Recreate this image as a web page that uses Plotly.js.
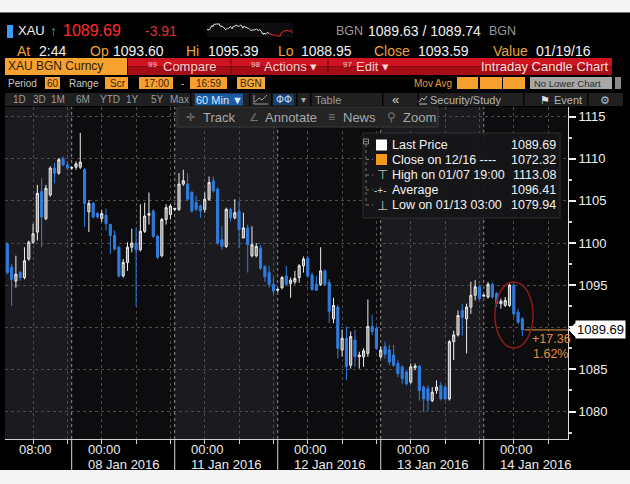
<!DOCTYPE html>
<html><head><meta charset="utf-8">
<script src="https://cdn.plot.ly/plotly-3.0.1.min.js"></script>
<style>html,body{margin:0;padding:0;background:#000;}#chart{width:630px;height:484px;}</style>
</head><body><div id="chart"></div>
<script>
// ---------- data ----------
const sessionDates = ['07 Jan 2016','08 Jan 2016','11 Jan 2016','12 Jan 2016','13 Jan 2016','14 Jan 2016'];
const sessionTimeLabels = ['08:00','00:00','00:00','00:00','00:00','00:00'];
const firstCandleSessionHour = 9;   // first bar = 9th hourly bar of the 07 Jan session (17:00 start)
const candleOpen = [
 1099.9,1097.1,1095.5,1096.5,1095.9,1098.1,1100.1,1101.3,1106.1,1102.9,1105.7,1108.9,1108.3,1110.0,1109.3,
 1108.9,1109.0,1109.0,1108.7,1103.7,1104.7,1103.5,1102.9,1103.3,1102.2,1100.9,1099.5,1096.1,1097.7,1099.5,1100.0,1099.2,1101.4,1103.3,1103.8,1100.8,1098.5,1102.8,1103.4,
 1104.0,1104.0,1107.0,1107.0,1106.0,1104.8,1104.4,1104.0,1105.2,1107.4,1106.4,1100.4,1099.6,1104.0,1103.0,1103.8,1100.6,1101.8,1098.5,1098.5,1099.4,1097.2,1096.5,1095.1,
 1094.4,1094.7,1096.1,1095.2,1095.4,1095.9,1097.3,1098.2,1096.2,1095.1,1095.1,1096.7,1095.3,1091.0,1092.4,1087.3,1088.7,1085.5,1088.5,1086.5,1086.5,1086.9,1090.1,1089.9,
 1086.5,1087.7,1087.3,1086.7,1085.7,1085.3,1084.7,1083.5,1085.2,1085.4,1082.9,1082.7,1081.3,1082.5,1083.1,1082.9,1081.5,1088.3,1089.1,1092.0,1091.0,1092.4,1093.8,1094.8,
 1093.7,1093.6,1095.1,1094.0,1092.8,1092.6,1092.6,1095.0,1091.8,1091.0];
const candleHigh = [
 1100.1,1097.5,1098.5,1096.7,1099.5,1100.3,1102.3,1106.9,1107.7,1106.9,1109.1,1109.5,1110.1,1110.3,1109.7,
 1109.1,1109.7,1113.08,1108.9,1105.1,1104.9,1103.7,1103.9,1104.1,1102.3,1101.5,1099.7,1098.1,1100.1,1101.7,1101.8,1104.6,1104.8,1106.0,1104.0,1101.0,1103.0,1104.6,1104.6,
 1104.2,1108.3,1108.7,1108.3,1106.2,1105.6,1104.6,1106.0,1107.9,1107.9,1106.6,1102.0,1104.2,1104.2,1105.2,1105.0,1103.6,1102.2,1102.0,1100.0,1099.8,1097.4,1097.3,1095.9,
 1094.6,1096.1,1097.3,1095.9,1096.7,1097.5,1098.4,1098.5,1096.5,1096.1,1099.5,1096.9,1095.7,1093.5,1092.7,1089.7,1090.1,1089.5,1089.7,1087.1,1087.5,1093.3,1091.5,1090.1,
 1087.7,1088.3,1087.9,1087.9,1086.1,1085.5,1084.9,1085.7,1085.7,1085.5,1083.1,1083.1,1082.9,1083.7,1083.5,1083.1,1088.5,1089.6,1092.0,1092.8,1092.8,1095.4,1095.6,1095.0,
 1093.9,1095.39,1095.3,1094.2,1093.4,1093.6,1095.3,1095.2,1092.2,1091.2];
const candleLow = [
 1096.3,1092.55,1094.7,1095.5,1095.7,1097.9,1099.9,1100.3,1099.5,1102.7,1105.5,1107.1,1108.1,1109.1,1108.7,
 1108.7,1108.7,1108.8,1101.9,1101.3,1102.9,1102.9,1102.5,1101.5,1098.7,1099.1,1095.9,1095.9,1096.7,1098.9,1092.5,1099.0,1101.2,1102.2,1100.6,1098.1,1098.3,1102.2,1102.8,
 1103.8,1103.8,1106.8,1105.0,1103.6,1103.8,1103.0,1103.6,1105.0,1106.0,1099.8,1099.2,1099.4,1102.6,1102.8,1099.4,1100.6,1096.5,1098.3,1098.3,1096.8,1095.4,1094.7,1093.9,
 1094.2,1094.5,1094.9,1093.5,1095.1,1095.3,1096.5,1095.9,1094.3,1094.3,1094.9,1094.9,1090.5,1090.5,1086.3,1086.5,1083.7,1085.1,1085.3,1085.1,1085.3,1086.5,1089.1,1087.3,
 1086.3,1086.3,1085.5,1085.3,1084.1,1083.3,1083.1,1083.3,1084.9,1081.3,1079.94,1080.1,1081.1,1082.1,1081.3,1081.3,1081.3,1086.1,1088.9,1089.0,1086.9,1091.6,1093.2,1093.2,
 1093.6,1093.4,1093.4,1092.4,1092.2,1092.4,1092.4,1091.2,1090.4,1088.95];
const candleClose = [
 1096.5,1095.7,1096.3,1095.9,1097.9,1100.1,1101.1,1105.9,1103.1,1106.5,1108.9,1108.3,1109.9,1109.3,1108.9,
 1108.95,1109.4,1109.6,1104.7,1104.7,1103.1,1103.1,1103.5,1102.3,1100.9,1099.3,1096.1,1097.7,1099.5,1100.0,1099.2,1101.4,1103.2,1103.5,1100.8,1098.3,1102.8,1104.2,1104.4,
 1104.1,1107.0,1107.4,1105.2,1103.8,1104.0,1103.8,1105.2,1107.2,1106.2,1100.0,1099.6,1104.0,1103.0,1103.6,1101.6,1101.8,1099.8,1099.8,1099.6,1097.0,1096.0,1095.1,1094.3,
 1094.5,1095.9,1095.1,1095.6,1095.8,1097.3,1098.1,1096.1,1094.5,1094.4,1096.7,1095.1,1091.9,1092.6,1087.5,1088.7,1085.3,1088.9,1086.5,1086.7,1087.2,1090.1,1089.5,1087.5,
 1087.3,1086.8,1085.9,1085.5,1084.5,1083.9,1083.3,1085.3,1085.4,1082.5,1081.5,1081.3,1082.3,1082.9,1081.5,1081.5,1088.3,1089.1,1091.4,1091.2,1092.4,1093.8,1094.8,1093.4,
 1093.8,1095.1,1093.6,1092.8,1093.1,1093.2,1095.0,1091.6,1090.6,1089.69];
const lastPrice = 1089.69;
const changeText = ['+17.36','1.62%'];
const legendLabels = ['Last Price','Close on 12/16 ----','High on 01/07 19:00','Average','Low on 01/13 03:00'];
const legendValues = ['1089.69','1072.32','1113.08','1096.41','1079.94'];
const yTicks = [1080,1085,1090,1095,1100,1105,1110,1115];

// ---------- helpers ----------
const W = 630, H = 484;
const F = 'Liberation Sans, Arial, sans-serif';
const X = p => p / W, Y = p => 1 - p / H;
const ann = [], shp = [];
function T(text, x, y, size, color, anchor, extra) {
  ann.push(Object.assign({xref:'paper', yref:'paper', x:X(x), y:Y(y), text:text, showarrow:false,
    xanchor:anchor||'left', yanchor:'middle', borderpad:0, font:{family:F, size:size, color:color}}, extra||{}));
}
function R(x0,y0,x1,y1,fill,line,layer) {
  shp.push({type:'rect', xref:'paper', yref:'paper', x0:X(x0), x1:X(x1), y0:Y(y1), y1:Y(y0),
    fillcolor:fill, line: line ? {color:line, width:1} : {width:0}, layer: layer||'above'});
}
function Ln(x0,y0,x1,y1,color,width,dash) {
  shp.push({type:'line', xref:'paper', yref:'paper', x0:X(x0), x1:X(x1), y0:Y(y0), y1:Y(y1),
    line:{color:color, width:width||1, dash:dash||'solid'}});
}
function P(pts, color, fill) {
  shp.push({type:'path', xref:'paper', yref:'paper',
    path: 'M' + pts.map(p => X(p[0]) + ',' + Y(p[1])).join(' L') + (fill ? ' Z' : ''),
    line:{color:color, width:1}, fillcolor: fill || 'rgba(0,0,0,0)'});
}

const n = candleOpen.length;
const idx = candleOpen.map((_, i) => i);
const xMin = -0.54, xMax = 130.63;
const sessionStart = s => s * 24 - firstCandleSessionHour;

// ---------- background strips ----------
R(0,0,630,12,'#f4f4f4',null,'below');
Ln(0,12.5,630,12.5,'#777777',1);
R(0,470,630,484,'#f4f4f4',null,'below');

// day bands
sessionDates.forEach((d, s) => {
  if (s % 2 === 0) {
    shp.push({type:'rect', xref:'x', yref:'paper', x0:Math.max(xMin, sessionStart(s)), x1:sessionStart(s+1),
      y0:Y(439), y1:Y(107), fillcolor:'#1b1b1f', line:{width:0}, layer:'below'});
  }
});
// session separators
for (let s = 1; s < sessionDates.length; s++) {
  const xs = sessionStart(s);
  shp.push({type:'line', xref:'x', yref:'paper', x0:xs, x1:xs, y0:Y(439), y1:Y(107),
    line:{color:'#8d8d8d', width:1, dash:'dot'}, layer:'below'});
  shp.push({type:'line', xref:'x', yref:'paper', x0:xs, x1:xs, y0:Y(470), y1:Y(439),
    line:{color:'#d6d6d6', width:1}});
}
// 8-hour grid / tick positions
const gridIdx = [];
for (let s = 0; s < sessionDates.length; s++) {
  [7, 15, 23].forEach(h => { const v = sessionStart(s) + h; if (v > xMin && v < xMax) gridIdx.push(v); });
}
// bottom labels
sessionDates.forEach((d, s) => {
  const hr = parseInt(sessionTimeLabels[s], 10);
  const pos = sessionStart(s) + ((hr - 17 + 24) % 24);
  ann.push({xref:'x', yref:'paper', x:pos, y:Y(449), xanchor:'left', yanchor:'middle', xshift:-15,
    text:sessionTimeLabels[s], showarrow:false, borderpad:0, font:{family:F, size:13, color:'#ececec'}});
  if (s > 0) ann.push({xref:'x', yref:'paper', x:pos, y:Y(464), xanchor:'left', yanchor:'middle', xshift:-15,
    text:d, showarrow:false, borderpad:0, font:{family:F, size:13, color:'#ececec'}});
});

// ---------- header ----------
const OR = '#eba23c', WH = '#f2f2f2', GR = '#9a9a9a';
R(7,25,13,38,'#3d9cf5');
T('XAU',17,31,13,WH);
T('\u2191',49,31,14,'#2fb54a');
T('1089.69',62,31,16,'#ff2b2b');
T('-3.91',144,31,14,'#e23030');
T('BGN',335,31,12.5,GR);
T('1089.63 / 1089.74',367,31,14,WH);
T('BGN',488,31,12.5,GR);

[['At',16,OR],['2:44',38,WH],['Op',89,OR],['1093.60',112,WH],['Hi',185,OR],['1095.39',207,WH],
 ['Lo',277,OR],['1088.95',300,WH],['Close',373,OR],['1093.59',417,WH],['Value',492,OR],['01/19/16',535,WH]]
 .forEach(a => T(a[0], a[1], 51, 14, a[2]));

// row 3 bar
R(5,58,127,75,'#f7a12e');
T('XAU BGN Curncy',7,66.5,12,'#2a1d08');
R(128,58,612,66.5,'#cf1421');
R(128,66.5,612,75,'#a50d17');
Ln(231,59,231,74,'#6e070d',1);
Ln(328,59,328,74,'#6e070d',1);
const PK = '#f6cfcf';
T('99',147,64,8,PK); T('Compare',162,66.5,13,PK);
T('98',250,64,8,PK); T('Actions \u25be',263,66.5,13,PK);
T('97',342,64,8,PK); T('Edit \u25be',355,66.5,13,PK);
T('Intraday Candle Chart',610,66.5,13,'#f8dede','right');

// row 4
const BX = '#f7a030', BT = '#3a2408';
T('Period',7,83,10,'#c8c8c8');
R(45,77,60,89,BX); T('60',52.5,83,10,BT,'center');
T('Range',68,83,10,'#c8c8c8');
R(105,77,128,89,BX); T('Scr',127,83,10,BT,'right');
R(139,77,173,89,BX); T('17:00',156,83,10,BT,'center');
T('-',180,83,10,'#c8c8c8');
R(190,77,227,89,BX); T('16:59',208.5,83,10,BT,'center');
R(237,77,265,89,'#f5a93a'); T('BGN',239,83,10,BT);
T('Mov Avg',413,83,10,'#e39a35');
R(457,77,478,89,BX); R(480,77,502,89,BX); R(503,77,525,89,BX);
R(530,77,612,89,'#a8a8a8'); T('No Lower Chart',533,83,9.5,'#2a2a2a');
R(615,77,621,89,'#8a8a8a');

// row 5
R(5,93,623,106,'#202020');
[190,249,271,296,310,382,417,523,587].forEach(x => R(x,93,x+1.5,106,'#050505'));
[['1D',12],['3D',32],['1M',50],['6M',75],['YTD',99],['1Y',125],['5Y',150],['Max',169]]
  .forEach(a => T(a[0], a[1], 99.5, 10, '#9c9c9c'));
R(195,93.5,243,105.5,'#1b5aa0'); T('60 Min \u25bc',219,99.5,11,'#d8e8ff','center');
P([[254,95],[254,104],[268,104]],'#9a9a9a');
P([[255,102],[259,98],[262,100],[267,95]],'#9a9a9a');
R(273,94,294,105,'#17406e'); T('\u03a6\u03a6',283.5,99.5,10,'#cfe4ff','center');
T('\u25be',300,99.5,10,'#aaaaaa');
T('Table',314,99.5,11,'#9c9c9c');
T('\u00ab',391,99.5,13,'#cfcfcf');
P([[419,104],[427,104]],'#bdbdbd');
P([[419,102],[422,98],[424,100],[427,96]],'#bdbdbd');
T('Security/Study',429,99.5,11,'#b5b5b5');
T('\u2691',539,99.5,11,'#e0e0e0');
T('Event',553,99.5,11,'#b5b5b5');
T('\u2699',599,99.5,11,'#bdbdbd');

// track toolbar
R(177,107,438,127,'#242424','#3a3a3a');
const TG = '#a9a9a9';
T('\u271b',185,117,11,'#777777'); T('Track',202,117,13,TG);
T('\u2220',248,117,11,'#777777'); T('Annotate',264,117,13,TG);
T('\u2261',327,117,12,'#777777'); T('News',342,117,13,TG);
T('\u26b2',386,117,12,'#777777'); T('Zoom',402,117,13,TG);

// ---------- legend box ----------
R(363,133,560,218,'rgba(22,22,24,0.95)','#2f2f2f');
const rowsY = [145,159.5,175,190,205];
R(363.5,139,368.5,144,'rgba(0,0,0,0)','#8a8a8a');
Ln(364.5,141.5,367.5,141.5,'#8a8a8a',1);
Ln(366,144,366,205,'#777777',1,'dot');
rowsY.slice(1).forEach(y => Ln(366,y,373,y,'#777777',1,'dot'));
R(376,139.5,387,150.5,'#ffffff');
R(376,154,387,165,'#f39a1d');
T('\u22a4',376,175,13,'#bdbdbd');
T('-+-',373,190,10,'#cfcfcf');
T('\u22a5',376,205,13,'#bdbdbd');
legendLabels.forEach((l, i) => {
  T(l,391,rowsY[i],12.5,'#f2f2f2');
  T(legendValues[i],557,rowsY[i],12.5,'#f2f2f2','right');
});

// ---------- last price marker ----------
shp.push({type:'line', xref:'x', yref:'y', x0:n - 0.5, x1:xMax, y0:lastPrice, y1:lastPrice,
  line:{color:'#e8963a', width:1}});
shp.push({type:'path', xref:'paper', yref:'y',
  path:'M' + X(569) + ',' + lastPrice + ' L' + X(576) + ',' + (lastPrice + 0.85) + ' L' + X(576) + ',' + (lastPrice - 0.85) + ' Z',
  fillcolor:'#ffffff', line:{color:'#ffffff', width:1}});
ann.push({xref:'paper', yref:'y', x:X(575), y:lastPrice, xanchor:'left', yanchor:'middle', text:legendValues[0],
  showarrow:false, bgcolor:'#ffffff', borderpad:1, font:{family:F, size:13, color:'#000000'}});
T(changeText[0],531,339,12.5,'#e08a3a');
T(changeText[1],532,354,12.5,'#e08a3a');
// highlight ellipse
shp.push({type:'circle', xref:'x', yref:'y', x0:113.6, x1:122.5, y0:1087.54, y1:1095.38,
  line:{color:'#8e1a1a', width:1.5}});

// ---------- traces ----------
const splitAt = sessionStart(4);
const traces = [
  {type:'candlestick', x:idx, open:candleOpen, high:candleHigh, low:candleLow, close:candleClose,
   xaxis:'x', yaxis:'y', whiskerwidth:0, hoverinfo:'skip',
   increasing:{line:{color:'#ededed', width:1}, fillcolor:'#8a8a8a'},
   decreasing:{line:{color:'#2f7de1', width:1}, fillcolor:'#2f7de1'}},
  {type:'scatter', mode:'lines', x:idx.slice(0, splitAt + 1), y:candleClose.slice(0, splitAt + 1),
   xaxis:'x2', yaxis:'y2', line:{color:'#e6e6e6', width:1}, hoverinfo:'skip'},
  {type:'scatter', mode:'lines', x:idx.slice(splitAt), y:candleClose.slice(splitAt),
   xaxis:'x2', yaxis:'y2', line:{color:'#e02a2a', width:1}, hoverinfo:'skip'}
];

// the last-price flag hides the tick label it covers
const yTickText = yTicks.map(v => Math.abs(v - lastPrice) < 2 ? '' : String(v));

const layout = {
  width:W, height:H, margin:{l:0, r:0, t:0, b:0},
  paper_bgcolor:'#000000', plot_bgcolor:'#0d0d10', showlegend:false, hovermode:false, dragmode:false,
  font:{family:F, color:'#ececec'},
  xaxis:{domain:[X(5), X(568)], range:[xMin, xMax], anchor:'y', rangeslider:{visible:false},
    tickmode:'array', tickvals:gridIdx, ticktext:gridIdx.map(() => ''), ticks:'outside', ticklen:4,
    tickcolor:'#cfcfcf', showline:true, linecolor:'#d0d0d0', linewidth:1,
    showgrid:true, gridcolor:'#4c4c4c', griddash:'dot', gridwidth:1, zeroline:false, fixedrange:true},
  yaxis:{domain:[Y(439), Y(107)], range:[1076.74, 1116.15], anchor:'x', side:'right',
    tickmode:'array', tickvals:yTicks, ticktext:yTickText, ticks:'outside', ticklen:7, tickwidth:2,
    tickcolor:'#f0f0f0', tickfont:{family:F, size:13, color:'#f0f0f0'},
    showline:true, linecolor:'#e0e0e0', linewidth:1,
    showgrid:true, gridcolor:'#4c4c4c', griddash:'dot', gridwidth:1, zeroline:false, fixedrange:true,
    minor:{tickmode:'linear', tick0:1077.5, dtick:5, ticks:'outside', ticklen:3, tickcolor:'#d0d0d0', showgrid:false}},
  xaxis2:{domain:[X(207), X(293)], anchor:'y2', visible:false, fixedrange:true},
  yaxis2:{domain:[Y(37), Y(23)], anchor:'x2', visible:false, fixedrange:true},
  shapes:shp, annotations:ann
};
Plotly.newPlot('chart', traces, layout, {staticPlot:true, displayModeBar:false});
</script></body></html>
